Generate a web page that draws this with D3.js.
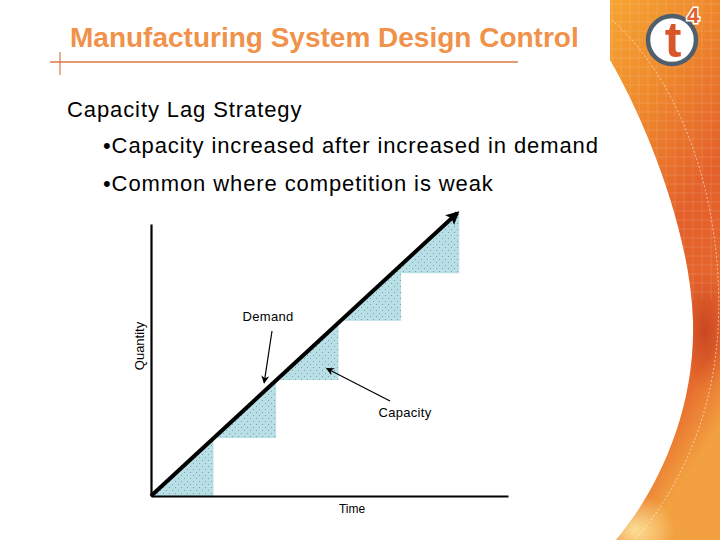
<!DOCTYPE html>
<html>
<head>
<meta charset="utf-8">
<script src="https://cdn.jsdelivr.net/npm/d3@7"></script>
<style>
  body { margin: 0; background: #fff; }
  svg { display: block; font-family: "Liberation Sans", Arial, sans-serif; }
</style>
</head>
<body>
<div id="slide"></div>
<script>
// time breakpoints where capacity is added, and the capacity level held after each one
const stepTimes = [0, 1, 2, 3, 4, 4.93];
const capacityLevels = [0, 1, 2, 3.02, 3.84, 3.84];
// demand grows linearly over time
const demandTimes = [0, 4.9];
const demandValues = [0, 4.88];
const bullets = ["\u2022Capacity increased after increased in demand", "\u2022Common where competition is weak"];

const W = 720, H = 540;
const svg = d3.select("#slide").append("svg")
    .attr("width", W)
    .attr("height", H);

const defs = svg.append("defs");

// ---- right hand decoration ----
const grad = defs.append("linearGradient").attr("id", "orangeGrad")
    .attr("x1", 0).attr("y1", 0).attr("x2", 0.3).attr("y2", 1);
grad.append("stop").attr("offset", "0%").attr("stop-color", "#f6a432");
grad.append("stop").attr("offset", "25%").attr("stop-color", "#ef8a2c");
grad.append("stop").attr("offset", "55%").attr("stop-color", "#e4602a");
grad.append("stop").attr("offset", "85%").attr("stop-color", "#e6692c");
grad.append("stop").attr("offset", "100%").attr("stop-color", "#f2a040");

const glow = defs.append("radialGradient").attr("id", "glow")
    .attr("cx", 0.5).attr("cy", 0.5).attr("r", 0.5);
glow.append("stop").attr("offset", "0%").attr("stop-color", "#fde6a0").attr("stop-opacity", 0.9);
glow.append("stop").attr("offset", "100%").attr("stop-color", "#fde6a0").attr("stop-opacity", 0);

const dark = defs.append("radialGradient").attr("id", "darkband")
    .attr("cx", 0.5).attr("cy", 0.5).attr("r", 0.5);
dark.append("stop").attr("offset", "0%").attr("stop-color", "#b8321c").attr("stop-opacity", 0.6);
dark.append("stop").attr("offset", "100%").attr("stop-color", "#b8321c").attr("stop-opacity", 0);

const deco = svg.append("g");
const decoPath = "M610,0 L720,0 L720,540 L616,540 C650,500 696,420 693,320 C690,230 645,120 610,60 Z";
defs.append("clipPath").attr("id", "decoClip").append("path").attr("d", decoPath);
deco.append("path").attr("d", decoPath).attr("fill", "url(#orangeGrad)");
const decoInner = deco.append("g").attr("clip-path", "url(#decoClip)");
decoInner.append("ellipse").attr("cx", 705).attr("cy", 330).attr("rx", 25).attr("ry", 60)
    .attr("fill", "url(#darkband)");
decoInner.append("ellipse").attr("cx", 635).attr("cy", 530).attr("rx", 40).attr("ry", 35)
    .attr("fill", "url(#glow)");
// faint grid
const gridG = decoInner.append("g").attr("stroke", "#ffffff").attr("stroke-opacity", 0.13).attr("stroke-width", 1);
d3.range(612, 720, 9).forEach(x => gridG.append("line").attr("x1", x).attr("x2", x).attr("y1", 0).attr("y2", 300));
d3.range(4, 300, 9).forEach(y => gridG.append("line").attr("x1", 610).attr("x2", 720).attr("y1", y).attr("y2", y));
// thin white dashed arc
decoInner.append("path")
    .attr("d", "M612,20 C680,80 725,200 718,330 C712,430 670,500 635,540")
    .attr("fill", "none").attr("stroke", "#fff").attr("stroke-opacity", 0.7)
    .attr("stroke-width", 0.8).attr("stroke-dasharray", "2,2");

// logo
const logo = svg.append("g").attr("transform", "translate(672,40)");
logo.append("circle").attr("r", 24).attr("fill", "#fff").attr("stroke", "#4f5f6d").attr("stroke-width", 4.5);
logo.append("text").attr("x", 1).attr("y", 17)
    .attr("text-anchor", "middle")
    .attr("font-size", 50).attr("font-weight", "bold")
    .attr("fill", "#d9552a").text("t");
logo.append("text").attr("x", 21).attr("y", -17)
    .attr("text-anchor", "middle")
    .attr("font-size", 22).attr("font-weight", "bold")
    .attr("fill", "#e0602c").attr("stroke", "#fff").attr("stroke-width", 3)
    .attr("paint-order", "stroke").text("4");

// ---- title ----
svg.append("text")
    .attr("x", 70).attr("y", 47)
    .attr("font-size", 28).attr("font-weight", "bold")
    .attr("fill", "#f0924a")
    .text("Manufacturing System Design Control");
svg.append("line").attr("x1", 50).attr("x2", 518).attr("y1", 62).attr("y2", 62)
    .attr("stroke", "#d97a45").attr("stroke-width", 1.5);
svg.append("line").attr("x1", 60).attr("x2", 60).attr("y1", 52).attr("y2", 75)
    .attr("stroke", "#d97a45").attr("stroke-width", 1.2);

svg.append("text").attr("x", 67).attr("y", 117)
    .attr("font-size", 22).attr("letter-spacing", 0.9).attr("fill", "#000")
    .text("Capacity Lag Strategy");
svg.selectAll(".bullet").data(bullets).join("text")
    .attr("class", "bullet")
    .attr("x", 103).attr("y", (d, i) => 153 + i * 37.5)
    .attr("font-size", 22).attr("letter-spacing", 0.9).attr("fill", "#000")
    .text(d => d);

// ---- chart ----
const x = d3.scaleLinear().domain([0, 5.71]).range([151, 508]);
const y = d3.scaleLinear().domain([0, 4.69]).range([496, 224]);

// dotted light blue fill
const pat = defs.append("pattern").attr("id", "dots")
    .attr("patternUnits", "userSpaceOnUse").attr("width", 6).attr("height", 6);
pat.append("rect").attr("width", 6).attr("height", 6).attr("fill", "#b8dfe6");
pat.append("rect").attr("x", 1).attr("y", 1).attr("width", 1).attr("height", 1).attr("fill", "#7aa4ac");
pat.append("rect").attr("x", 4).attr("y", 4).attr("width", 1).attr("height", 1).attr("fill", "#7aa4ac");

const demandAt = d3.scaleLinear().domain(demandTimes).range(demandValues);

// shortage areas: between capacity step (below) and demand line (above)
const areaGen = d3.area()
    .x(d => x(d.t))
    .y0(d => y(d.cap))
    .y1(d => y(d.dem));
const shortage = [];
for (let i = 0; i < stepTimes.length - 1; i++) {
    const t0 = stepTimes[i], t1 = stepTimes[i + 1];
    shortage.push([
        {t: t0, cap: capacityLevels[i], dem: Math.max(capacityLevels[i], demandAt(t0))},
        {t: t1, cap: capacityLevels[i], dem: demandAt(t1)}
    ]);
}
svg.append("g").selectAll("path").data(shortage).join("path")
    .attr("d", areaGen)
    .attr("fill", "url(#dots)");

// axes (no ticks)
svg.append("g")
    .attr("transform", `translate(0,${y(0)})`)
    .call(d3.axisBottom(x).ticks(0).tickSizeOuter(0))
    .call(g => g.select(".domain").attr("stroke", "#000").attr("stroke-width", 2.2));
svg.append("g")
    .attr("transform", `translate(${x(0)},0)`)
    .call(d3.axisLeft(y).ticks(0).tickSizeOuter(0))
    .call(g => g.select(".domain").attr("stroke", "#000").attr("stroke-width", 2.2));

// arrow markers
defs.append("marker").attr("id", "bigArrow")
    .attr("viewBox", "0 0 10 10").attr("refX", 8).attr("refY", 5)
    .attr("markerWidth", 3.3).attr("markerHeight", 3.3).attr("orient", "auto")
    .append("path").attr("d", "M0,0 L10,5 L0,10 L2,5 Z").attr("fill", "#000");
defs.append("marker").attr("id", "smallArrow")
    .attr("viewBox", "0 0 10 10").attr("refX", 9).attr("refY", 5)
    .attr("markerWidth", 8).attr("markerHeight", 8).attr("markerUnits", "userSpaceOnUse")
    .attr("orient", "auto")
    .append("path").attr("d", "M0,0 L10,5 L0,10 L3,5 Z").attr("fill", "#000");

// demand line
const lineGen = d3.line().x((d, i) => x(demandTimes[i])).y(d => y(d));
svg.append("path")
    .attr("d", lineGen(demandValues))
    .attr("fill", "none").attr("stroke", "#000").attr("stroke-width", 4)
    .attr("marker-end", "url(#bigArrow)");

// labels with pointer arrows
svg.append("text").attr("x", 268).attr("y", 321)
    .attr("text-anchor", "middle").attr("font-size", 13).attr("letter-spacing", 0.3).text("Demand");
svg.append("line")
    .attr("x1", 272).attr("y1", 331).attr("x2", x(1.81)).attr("y2", y(1.95))
    .attr("stroke", "#000").attr("stroke-width", 1.2).attr("marker-end", "url(#smallArrow)");
svg.append("text").attr("x", 405).attr("y", 417)
    .attr("text-anchor", "middle").attr("font-size", 13).attr("letter-spacing", 0.3).text("Capacity");
svg.append("line")
    .attr("x1", 390).attr("y1", 401).attr("x2", x(2.81)).attr("y2", y(2.2))
    .attr("stroke", "#000").attr("stroke-width", 1.2).attr("marker-end", "url(#smallArrow)");

svg.append("text").attr("x", 352).attr("y", 513)
    .attr("text-anchor", "middle").attr("font-size", 12).text("Time");
svg.append("text")
    .attr("transform", "translate(144,346) rotate(-90)")
    .attr("text-anchor", "middle").attr("font-size", 13).text("Quantity");
</script>
</body>
</html>
